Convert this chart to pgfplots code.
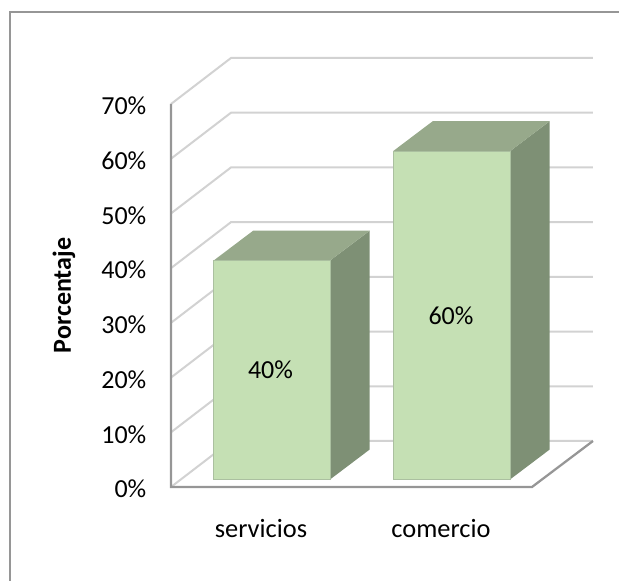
\documentclass[border=0pt]{standalone}
\usepackage{pgfplots}
\pgfplotsset{compat=1.18}
\usepackage{fontspec}
\setmainfont{Carlito}
\definecolor{frontc}{HTML}{C5E0B4}
\definecolor{topc}{HTML}{97A98B}
\definecolor{sidec}{HTML}{7E9075}
\definecolor{edgec}{HTML}{ABC0A0}
\definecolor{gridc}{HTML}{D2D2D2}
\definecolor{axisc}{HTML}{969696}
\begin{document}
\begin{tikzpicture}[x=0.75pt,y=0.75pt]
\path[use as bounding box] (-171,-94) rectangle (448,487);
\draw[axisc,line width=1.5pt] (-161,-94) -- (-161,474.5) -- (448,474.5);
\begin{axis}[
  scale only axis, width=316.5pt, height=287.25pt,
  xmin=171, xmax=593, ymin=0, ymax=70, clip=false,
  axis line style={draw=none}, tick style={draw=none},
  ytick={0,10,20,30,40,50,60,70},
  yticklabel={\pgfmathprintnumber{\tick}\%},
  /pgf/number format/assume math mode=true,
  yticklabel style={font=\fontsize{19.5}{21}\selectfont,anchor=east,xshift=-15pt,yshift=-1.5pt,text=black},
  xtick={261,441}, xticklabels={servicios,comercio},
  xticklabel style={font=\fontsize{19.8}{21}\selectfont,anchor=center,yshift=-31.5pt,text=black},
  ylabel={\textbf{Porcentaje}},
  ylabel style={font=\fontsize{19.5}{21}\selectfont,at={(axis cs:64,35)},anchor=center,rotate=0},
]
\foreach \v in {0,10,20,30,40,50,60,70} {
  \edef\temp{\noexpand\addplot[gridc,line width=1.5pt,forget plot] coordinates {(171,\v) (231,\v+8.41) (593,\v+8.41)};}
  \temp
}
\addplot[axisc,line width=1.7pt,forget plot] coordinates {(171,70) (171,0) (532,0) (593,8.41)};
\end{axis}
\begin{axis}[
  scale only axis, width=316.5pt, height=287.25pt,
  xmin=171, xmax=593, ymin=-1.37, ymax=68.63, clip=false,
  hide axis,
]
\addplot[draw=none,fill=sidec] coordinates {(330,0) (369.7,5.48) (369.7,45.48) (330,40)} -- cycle;
\addplot[draw=none,fill=topc] coordinates {(213.5,40) (253.2,45.48) (369.7,45.48) (330,40)} -- cycle;
\addplot[draw=edgec,line width=0.7pt,fill=frontc] coordinates {(213.5,0) (213.5,40) (330,40) (330,0)} -- cycle;
\addplot[draw=none,fill=sidec] coordinates {(510,0) (549.7,5.48) (549.7,65.48) (510,60)} -- cycle;
\addplot[draw=none,fill=topc] coordinates {(393,60) (432.7,65.48) (549.7,65.48) (510,60)} -- cycle;
\addplot[draw=edgec,line width=0.7pt,fill=frontc] coordinates {(393,0) (393,60) (510,60) (510,0)} -- cycle;
\node[font=\fontsize{19.5}{21}\selectfont] at (axis cs:270.5,20) {40\%};
\node[font=\fontsize{19.5}{21}\selectfont] at (axis cs:451,30) {60\%};
\end{axis}
\end{tikzpicture}
\end{document}
